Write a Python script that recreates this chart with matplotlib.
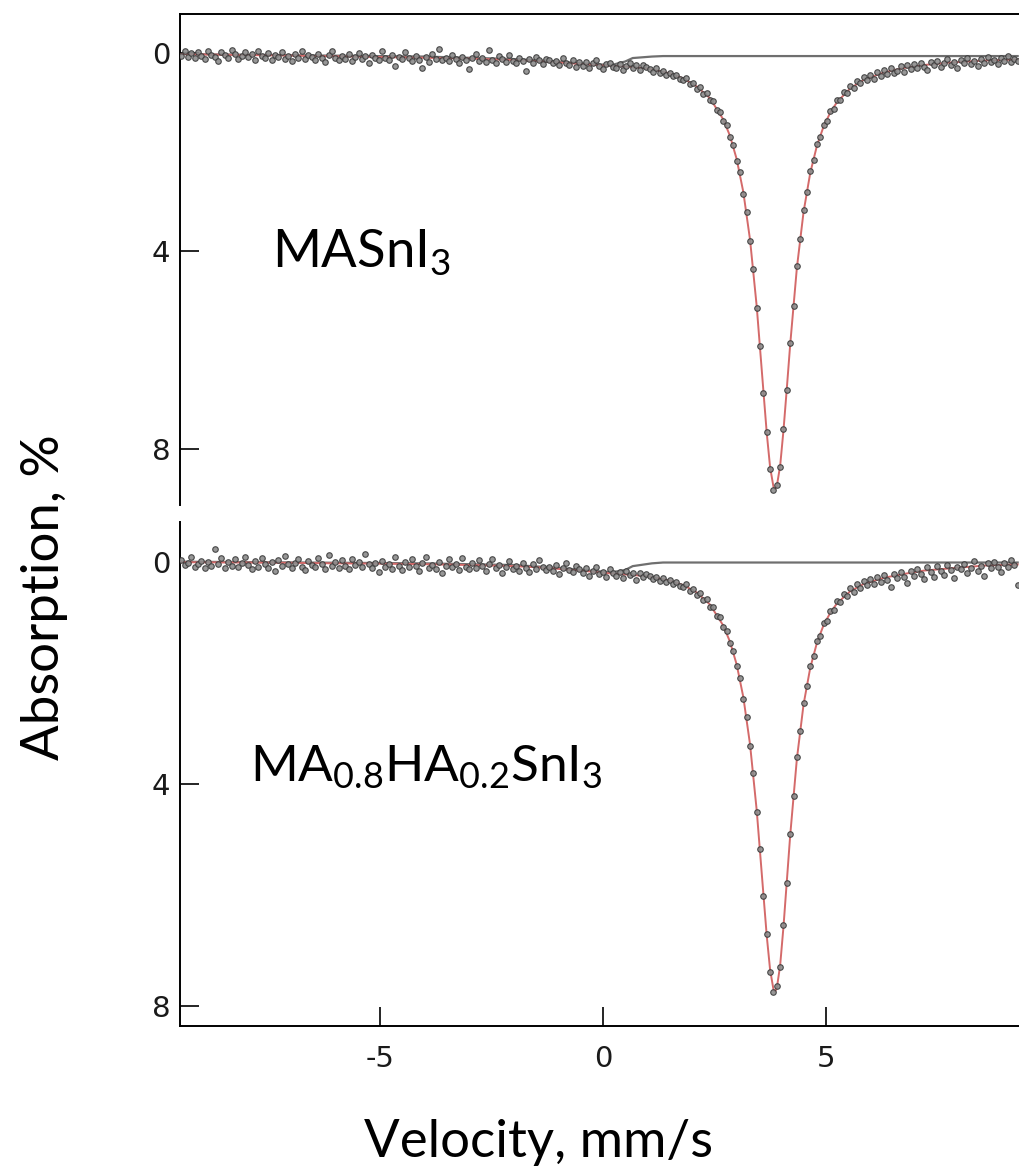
import numpy as np
import matplotlib
matplotlib.use("Agg")
import matplotlib.pyplot as plt

# ---------------- data ----------------
# uniform velocity channels of the spectrometer (mm/s)
channel_start, channel_stop, channel_count = -9.45, 9.30, 251
velocity = np.linspace(channel_start, channel_stop, channel_count)

absorption_top = [
    0.05, -0.04, 0.08, 0.00, 0.10, -0.02, 0.06, 0.12, -0.05, 0.03,
    0.07, 0.15, -0.02, 0.04, 0.09, -0.06, 0.01, 0.11, 0.05, -0.03,
    0.08, 0.02, 0.13, -0.04, 0.06, 0.10, 0.00, 0.14, 0.03, 0.07,
    -0.02, 0.11, 0.06, 0.16, 0.02, 0.09, -0.05, 0.12, 0.04, 0.08,
    0.14, 0.01, 0.10, 0.18, 0.03, -0.04, 0.09, 0.13, 0.05, 0.11,
    0.02, 0.15, 0.08, -0.01, 0.12, 0.06, 0.19, 0.04, 0.10, 0.13,
    -0.05, 0.09, 0.14, 0.03, 0.27, 0.07, 0.12, -0.02, 0.10, 0.16,
    0.05, 0.13, 0.30, 0.08, 0.17, 0.02, 0.11, -0.08, 0.14, 0.09,
    0.16, 0.04, 0.12, 0.20, 0.07, 0.13, 0.33, 0.10, 0.02, 0.15,
    0.09, 0.18, -0.06, 0.14, 0.21, 0.06, 0.12, 0.17, 0.03, 0.15,
    0.20, 0.10, 0.16, 0.36, 0.12, 0.19, 0.07, 0.14, 0.22, 0.11,
    0.13, 0.21, 0.16, 0.25, 0.10, 0.19, 0.24, 0.14, 0.28, 0.18,
    0.26, 0.17, 0.30, 0.21, 0.14, 0.27, 0.33, 0.22, 0.19, 0.29,
    0.31, 0.22, 0.35, 0.27, 0.20, 0.30, 0.25, 0.34, 0.24, 0.29,
    0.33, 0.38, 0.30, 0.41, 0.37, 0.45, 0.40, 0.47, 0.44, 0.52,
    0.55, 0.50, 0.63, 0.60, 0.72, 0.69, 0.83, 0.80, 0.95, 0.97,
    1.14, 1.18, 1.38, 1.46, 1.70, 1.86, 2.17, 2.41, 2.84, 3.21,
    3.80, 4.36, 5.15, 5.91, 6.86, 7.65, 8.40, 8.83, 8.72, 8.37,
    7.59, 6.80, 5.86, 5.10, 4.31, 3.76, 3.18, 2.81, 2.39, 2.15,
    1.84, 1.69, 1.45, 1.37, 1.16, 1.12, 0.95, 0.94, 0.79, 0.81,
    0.66, 0.70, 0.57, 0.61, 0.49, 0.55, 0.44, 0.52, 0.39, 0.47,
    0.35, 0.42, 0.31, 0.40, 0.36, 0.27, 0.38, 0.24, 0.33, 0.22,
    0.30, 0.19, 0.28, 0.35, 0.18, 0.25, 0.15, 0.29, 0.21, 0.12,
    0.24, 0.17, 0.31, 0.14, 0.20, 0.09, 0.22, 0.16, 0.27, 0.11,
    0.19, 0.08, 0.17, 0.13, 0.23, 0.10, 0.16, 0.06, 0.18, 0.12, 0.15,
]

absorption_bottom = [
    -0.03, 0.06, 0.02, -0.08, 0.09, 0.04, -0.02, 0.11, 0.00, 0.07,
    -0.22, 0.05, -0.06, 0.12, 0.01, 0.08, -0.04, 0.10, 0.03, -0.09,
    0.06, 0.14, -0.01, 0.09, -0.07, 0.04, 0.11, 0.00, 0.16, -0.03,
    0.07, -0.10, 0.05, 0.12, 0.02, -0.05, 0.09, 0.15, -0.02, 0.06,
    0.10, -0.06, 0.04, 0.13, -0.12, 0.07, 0.01, 0.11, -0.03, 0.08,
    0.14, -0.04, 0.06, 0.00, 0.10, -0.14, 0.05, 0.12, 0.02, 0.18,
    -0.02, 0.09, 0.04, 0.13, -0.08, 0.07, 0.15, 0.01, 0.10, -0.05,
    0.08, 0.16, 0.03, -0.09, 0.11, 0.06, 0.14, 0.00, 0.20, 0.07,
    -0.04, 0.10, 0.05, 0.15, -0.06, 0.09, 0.13, 0.02, 0.11, -0.03,
    0.08, 0.17, 0.04, -0.05, 0.12, 0.06, 0.21, 0.09, -0.02, 0.14,
    0.07, 0.16, 0.03, 0.11, 0.19, 0.05, 0.13, -0.03, 0.10, 0.15,
    0.09, 0.17, 0.06, 0.22, 0.12, 0.03, 0.15, 0.19, 0.08, 0.14,
    0.20, 0.12, 0.25, 0.16, 0.09, 0.22, 0.18, 0.28, 0.14, 0.21,
    0.26, 0.19, 0.30, 0.17, 0.24, 0.21, 0.33, 0.20, 0.27, 0.23,
    0.25, 0.31, 0.27, 0.34, 0.29, 0.36, 0.33, 0.40, 0.37, 0.43,
    0.46, 0.41, 0.53, 0.49, 0.60, 0.57, 0.69, 0.68, 0.81, 0.82,
    0.97, 1.00, 1.18, 1.25, 1.47, 1.60, 1.88, 2.09, 2.47, 2.80,
    3.32, 3.81, 4.51, 5.18, 6.02, 6.71, 7.38, 7.75, 7.64, 7.30,
    6.54, 5.78, 4.90, 4.22, 3.52, 3.05, 2.54, 2.24, 1.88, 1.70,
    1.42, 1.33, 1.10, 1.06, 0.88, 0.87, 0.71, 0.73, 0.58, 0.62,
    0.48, 0.54, 0.41, 0.47, 0.35, 0.42, 0.31, 0.40, 0.28, 0.36,
    0.24, 0.33, 0.45, 0.22, 0.30, 0.19, 0.27, 0.38, 0.16, 0.25,
    0.13, 0.22, 0.31, 0.10, 0.19, 0.28, 0.08, 0.17, 0.24, 0.06,
    0.15, 0.29, 0.09, 0.13, 0.04, 0.21, 0.11, -0.01, 0.16, 0.07,
    0.25, 0.03, 0.12, 0.00, 0.09, 0.18, 0.02, 0.10, -0.03, 0.06, 0.42,
]

# fitted envelopes
fit_velocity = [-9.45, -8, -7, -6, -5, -4, -3, -2, -1.5, -1, -0.5, 0, 0.5, 1.0,
                1.5, 1.8, 2.1, 2.4, 2.7, 2.85, 3.0, 3.15, 3.3, 3.45, 3.6, 3.675,
                3.75, 3.825, 3.86, 3.9, 3.975, 4.05, 4.125, 4.2, 4.35, 4.5, 4.65,
                4.8, 4.95, 5.1, 5.25, 5.55, 5.85, 6.3, 6.75, 7.2, 7.8, 8.55, 9.3]
fit_top = [0.02, 0.04, 0.05, 0.065, 0.08, 0.095, 0.11, 0.14, 0.16, 0.19, 0.22,
           0.25, 0.27, 0.31, 0.41, 0.51, 0.67, 0.91, 1.34, 1.67, 2.14, 2.81,
           3.77, 5.12, 6.83, 7.68, 8.37, 8.76, 8.81, 8.75, 8.34, 7.62, 6.77,
           5.89, 4.34, 3.21, 2.42, 1.87, 1.48, 1.20, 0.99, 0.71, 0.54, 0.39,
           0.30, 0.24, 0.19, 0.15, 0.13]
fit_bottom = [0.01, 0.015, 0.02, 0.03, 0.035, 0.045, 0.06, 0.08, 0.10, 0.13,
              0.16, 0.20, 0.23, 0.26, 0.34, 0.42, 0.55, 0.77, 1.15, 1.44, 1.85,
              2.44, 3.29, 4.48, 5.99, 6.74, 7.35, 7.70, 7.74, 7.68, 7.27, 6.57,
              5.75, 4.93, 3.55, 2.57, 1.91, 1.46, 1.14, 0.92, 0.75, 0.53, 0.40,
              0.29, 0.22, 0.16, 0.12, 0.07, 0.05]

# minor (Sn4+) sub-spectrum lines
comp_velocity = [-9.45, -4, -2, -1, -0.3, 0.2, 0.5, 0.67, 1.1, 1.35, 9.3]
comp_top = [0.02, 0.07, 0.12, 0.17, 0.22, 0.24, 0.17, 0.10, 0.07, 0.06, 0.06]
comp_bottom = [0.0, 0.03, 0.06, 0.11, 0.16, 0.19, 0.15, 0.08, 0.03, 0.015, 0.015]

sample_labels = [r"MASnI$_{3}$", r"MA$_{0.8}$HA$_{0.2}$SnI$_{3}$"]
y_ticks = [0, 4, 8]
x_ticks = [-5, 0, 5]

# ---------------- figure ----------------
plt.rcParams["mathtext.fontset"] = "custom"
plt.rcParams["mathtext.rm"] = "Lato"
plt.rcParams["mathtext.it"] = "Lato:italic"
plt.rcParams["mathtext.bf"] = "Lato:bold"

fig = plt.figure(figsize=(10.19, 11.76), dpi=100)
ax1 = fig.add_axes([0.17664, 0.57058, 0.82336, 0.41752])
ax2 = fig.add_axes([0.17664, 0.12755, 0.82336, 0.42883])

fit_color = "#d46a6a"
tick_font = dict(fontsize=21, family="DejaVu Sans", color="#1a1a1a")
for ax, data, fit, comp in [(ax1, absorption_top, fit_top, comp_top),
                            (ax2, absorption_bottom, fit_bottom, comp_bottom)]:
    ax.plot(comp_velocity, comp, color="#6f6f6f", lw=1.6, zorder=2)
    ax.plot(fit_velocity, fit, color=fit_color, lw=1.4, zorder=3)
    ax.plot(velocity, data, ls="none", marker="o", ms=4.0, mfc="#8c8c8c",
            mec="#3a3a3a", mew=0.8, zorder=4, alpha=0.9)
    ax.set_xlim(-9.48, 9.33)
    ax.set_yticks(y_ticks)
    ax.set_yticklabels([str(t) for t in y_ticks], **tick_font)
    ax.tick_params(axis="y", direction="in", length=14, width=1.2, pad=7)
    ax.spines["right"].set_visible(False)
    for s in ax.spines.values():
        s.set_linewidth(1.4)

ax1.set_ylim(9.13, -0.79)
ax2.set_ylim(8.36, -0.72)
ax1.spines["bottom"].set_visible(False)
ax1.set_xticks([])
ax2.spines["top"].set_visible(False)
ax2.set_xticks(x_ticks)
ax2.set_xticklabels([str(t) for t in x_ticks], **tick_font)
ax2.tick_params(axis="x", direction="in", length=14, width=1.2, pad=14)

ax1.text(-7.42, 4.34, sample_labels[0], fontsize=38, family="Lato",
         va="baseline", ha="left", color="black")
ax2.text(-7.91, 3.96, sample_labels[1], fontsize=37, family="Lato",
         va="baseline", ha="left", color="black")

fig.text(0.044, 1 - 597 / 1176, "Absorption, %", rotation=90, fontsize=38,
         family="Lato", ha="center", va="center")
fig.text(538 / 1019, 1 - 1143 / 1176, "Velocity, mm/s", fontsize=38,
         family="Lato", ha="center", va="center")

fig.savefig("out.png", dpi=100)
